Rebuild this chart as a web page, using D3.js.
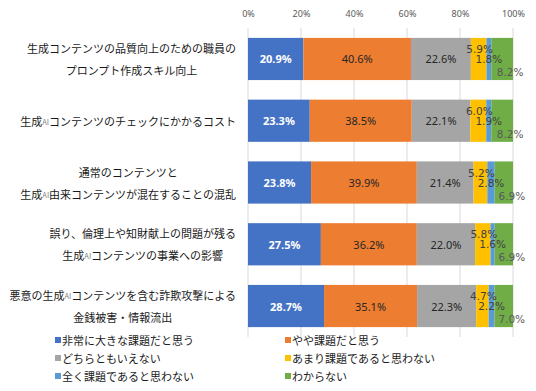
<!DOCTYPE html>
<html>
<head>
<meta charset="utf-8">
<script src="https://cdn.jsdelivr.net/npm/d3@7"></script>
<style>
body { margin: 0; background: #fff; }
</style>
</head>
<body>
<script>
// categories (each entry is the lines of the label)
var categories = [
	["生成コンテンツの品質向上のための職員の", "プロンプト作成スキル向上"],
	["生成AIコンテンツのチェックにかかるコスト"],
	["通常のコンテンツと", "生成AI由来コンテンツが混在することの混乱"],
	["誤り、倫理上や知財献上の問題が残る", "生成AIコンテンツの事業への影響"],
	["悪意の生成AIコンテンツを含む詐欺攻撃による", "金銭被害・情報流出"]
];
var seriesNames = ["非常に大きな課題だと思う", "やや課題だと思う", "どちらともいえない", "あまり課題であると思わない", "全く課題であると思わない", "わからない"];
var seriesColors = ["#4472C4", "#ED7D31", "#A5A5A5", "#FFC000", "#5B9BD5", "#70AD47"];
var verySerious = [20.9, 23.3, 23.8, 27.5, 28.7];
var somewhat = [40.6, 38.5, 39.9, 36.2, 35.1];
var neither = [22.6, 22.1, 21.4, 22.0, 22.3];
var notMuch = [5.9, 6.0, 5.2, 5.8, 4.7];
var notAtAll = [1.8, 1.9, 2.8, 1.6, 2.2];
var dontKnow = [8.2, 8.2, 6.9, 6.9, 7.0];
var xTicks = [0, 20, 40, 60, 80, 100];

var series = [verySerious, somewhat, neither, notMuch, notAtAll, dontKnow];

var width = 536, height = 391;

var svg = d3.select("body").append("svg")
	.attr("width", width).attr("height", height);

var x = d3.scaleLinear().domain([0, 100]).range([248, 513]);
var y = d3.scaleBand().domain(d3.range(categories.length)).range([28, 337])
	.paddingInner(0.317).paddingOuter(0.16);

// gridlines
svg.append("g").selectAll("line").data(xTicks).enter().append("line")
	.attr("x1", function(d){ return x(d); }).attr("x2", function(d){ return x(d); })
	.attr("y1", 28).attr("y2", 337)
	.attr("stroke", "#d9d9d9").attr("stroke-width", 1);

// top axis labels
var axis = svg.append("g").attr("transform", "translate(0,17)")
	.call(d3.axisTop(x).tickValues(xTicks).tickSize(0).tickPadding(0).tickFormat(function(d){ return d + "%"; }));
axis.select(".domain").remove();
axis.selectAll("text").attr("fill", "#595959").style("font-family", "'Noto Sans', sans-serif").style("font-size", "9px");

// stacked rows
var rows = categories.map(function(c, i) {
	var acc = 0;
	return series.map(function(s, j) {
		var seg = {row: i, ser: j, v: s[i], x0: acc, x1: acc + s[i]};
		acc += s[i];
		return seg;
	});
});
var segs = [].concat.apply([], rows);

svg.append("g").selectAll("rect").data(segs).enter().append("rect")
	.attr("x", function(d){ return x(d.x0); })
	.attr("width", function(d){ return x(d.x1) - x(d.x0); })
	.attr("y", function(d){ return y(d.row); })
	.attr("height", y.bandwidth())
	.attr("fill", function(d){ return seriesColors[d.ser]; });

// data labels
var lbl = svg.append("g");
segs.forEach(function(d) {
	var cx = (x(d.x0) + x(d.x1)) / 2;
	var cy = y(d.row) + y.bandwidth() / 2;
	var t = lbl.append("text").attr("text-anchor", "middle").attr("dominant-baseline", "central")
		.text(d.v.toFixed(1) + "%");
	if (d.ser < 3) {
		t.attr("x", cx).attr("y", cy)
			.style("font-family", "'Noto Sans', sans-serif").style("font-size", "11px")
			.attr("fill", d.ser == 0 ? "#fff" : "#262626")
			.style("font-weight", d.ser == 0 ? "bold" : "normal");
	} else {
		var dx = 0, dy = 0;
		if (d.ser == 3) { dx = 1; dy = -10; }
		if (d.ser == 5) { dx = 8; dy = 13; }
		t.attr("x", cx + dx).attr("y", cy + dy)
			.style("font-family", "'DejaVu Sans', sans-serif").style("font-size", "10.5px")
			.attr("fill", d.ser == 5 ? "#595959" : "#404040");
	}
});

// category labels: block right edge at 236, lines centred in block
var cat = svg.append("g");
categories.forEach(function(lines, i) {
	var cy = y(i) + y.bandwidth() / 2;
	var n = lines.length;
	var texts = lines.map(function(line, k) {
		var t = cat.append("text").attr("dominant-baseline", "central").attr("text-anchor", "middle")
			.attr("y", cy + (k - (n - 1) / 2) * 22)
			.attr("fill", "#1a1a1a")
			.style("font-family", "'Noto Sans CJK JP', sans-serif").style("font-size", "11px");
		var parts = line.split("AI");
		parts.forEach(function(p, m) {
			if (m > 0) t.append("tspan").style("font-size", "7.5px").attr("fill", "#7f7f7f").text("AI");
			t.append("tspan").text(p);
		});
		return t;
	});
	var maxW = d3.max(texts, function(t){ return t.node().getComputedTextLength(); });
	texts.forEach(function(t){ t.attr("x", 236 - maxW / 2); });
});

// legend
var leg = svg.append("g");
seriesNames.forEach(function(name, i) {
	var lx = i % 2 == 0 ? 55 : 285;
	var ly = 340 + Math.floor(i / 2) * 18;
	leg.append("rect").attr("x", lx).attr("y", ly - 3).attr("width", 6).attr("height", 6)
		.attr("fill", seriesColors[i]);
	leg.append("text").attr("x", lx + 7).attr("y", ly).attr("dominant-baseline", "central")
		.attr("fill", "#1a1a1a")
		.style("font-family", "'Noto Sans CJK JP', sans-serif").style("font-size", "11px")
		.text(name);
});
</script>
</body>
</html>
